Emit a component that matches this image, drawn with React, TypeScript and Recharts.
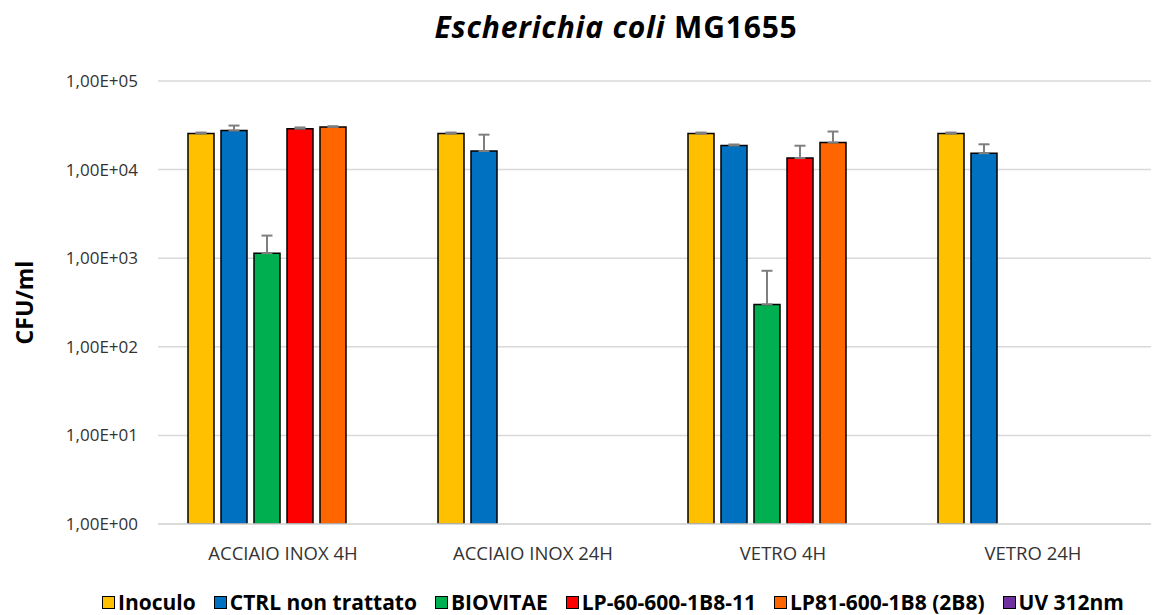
import { BarChart, Bar, XAxis, YAxis, CartesianGrid, Legend, ErrorBar } from 'recharts';

const categories = ['ACCIAIO INOX 4H', 'ACCIAIO INOX 24H', 'VETRO 4H', 'VETRO 24H'];

const inoculo = [25500, 25500, 25500, 25500];
const inoculoErr = [700, 700, 700, 700];
const ctrl = [27600, 16200, 18700, 15300];
const ctrlErr = [3800, 8600, 500, 4000];
const biovitae = [1140, null, 301, null];
const biovitaeErr = [660, null, 420, null];
const lp60 = [29000, null, 13500, null];
const lp60Err = [900, null, 5100, null];
const lp81 = [30300, null, 20200, null];
const lp81Err = [600, null, 6700, null];
const uv = [null, null, null, null];

const yTicks = [1, 10, 100, 1000, 10000, 100000];

const series = [
  { key: 'inoculo', name: 'Inoculo', color: '#FFC000' },
  { key: 'ctrl', name: 'CTRL non trattato', color: '#0070C0' },
  { key: 'biovitae', name: 'BIOVITAE', color: '#00B050' },
  { key: 'lp60', name: 'LP-60-600-1B8-11', color: '#FF0000' },
  { key: 'lp81', name: 'LP81-600-1B8 (2B8)', color: '#FF6600' },
  { key: 'uv', name: 'UV 312nm', color: '#7030A0' },
];

const err = (e: number | null) => (e == null ? null : [0, e]);

const data = categories.map((c, i) => ({
  name: c,
  inoculo: inoculo[i],
  inoculoErr: err(inoculoErr[i]),
  ctrl: ctrl[i],
  ctrlErr: err(ctrlErr[i]),
  biovitae: biovitae[i],
  biovitaeErr: err(biovitaeErr[i]),
  lp60: lp60[i],
  lp60Err: err(lp60Err[i]),
  lp81: lp81[i],
  lp81Err: err(lp81Err[i]),
  uv: uv[i],
}));

const FONT = '"Open Sans", "Noto Sans", sans-serif';

function formatTick(v: number) {
  const exp = Math.round(Math.log10(v));
  return `1,00E+${String(exp).padStart(2, '0')}`;
}

function renderLegend() {
  return (
    <div style={{ display: 'flex', justifyContent: 'center', alignItems: 'center', height: 26, fontFamily: FONT, fontWeight: 700, fontSize: 21, color: '#000', paddingLeft: 78 }}>
      {series.map(s => (
        <div key={s.key} style={{ display: 'flex', alignItems: 'center', marginRight: 18 }}>
          <span style={{ display: 'inline-block', width: 11, height: 11, background: s.color, border: '1.5px solid #000', marginRight: 3 }} />
          <span>{s.name}</span>
        </div>
      ))}
    </div>
  );
}

function YLabel(props: any) {
  const vb = props.viewBox;
  const x = vb.x + 16;
  const y = vb.y + vb.height / 2;
  return (
    <text x={x} y={y} transform={`rotate(-90, ${x}, ${y})`} textAnchor="middle" dominantBaseline="central"
      style={{ fontFamily: FONT, fontWeight: 700, fontSize: 23, fill: '#000' }}>
      CFU/ml
    </text>
  );
}

export default function App() {
  return (
    <div style={{ position: 'relative', width: 1151, height: 607 }}>
      <div style={{ position: 'absolute', top: -2, left: 608 - 300, width: 600, textAlign: 'center', fontFamily: FONT, fontWeight: 700, fontSize: 30, letterSpacing: 0.8, color: '#000' }}>
        <i>Escherichia coli</i> MG1655
      </div>
      <BarChart width={1151} height={607} data={data} margin={{ top: 73, right: 1, bottom: 0, left: 0 }}
        barSize={26} barGap={7}>
        <CartesianGrid vertical={false} stroke="#d9d9d9" strokeWidth={1.5} />
        <XAxis dataKey="name" height={65} tickLine={false} tickSize={0} tickMargin={23}
          axisLine={{ stroke: '#d9d9d9', strokeWidth: 1.5 }}
          tick={{ fontFamily: FONT, fontSize: 18.5, fill: '#333' }} interval={0} />
        <YAxis scale="log" domain={[1, 100000]} ticks={yTicks} allowDataOverflow width={150}
          axisLine={false} tickLine={false} tickSize={0} tickMargin={20} tickFormatter={formatTick}
          tick={{ fontFamily: FONT, fontSize: 17, fill: '#333' }}
          label={<YLabel />} />
        <Legend verticalAlign="bottom" content={renderLegend} />
        {series.map(s => (
          <Bar key={s.key} dataKey={s.key} name={s.name} fill={s.color} stroke="#000" strokeWidth={1.5} isAnimationActive={false}>
            {s.key !== 'uv' && (
              <ErrorBar dataKey={`${s.key}Err`} direction="y" width={5.5} stroke="#7f7f7f" strokeWidth={2} />
            )}
          </Bar>
        ))}
      </BarChart>
    </div>
  );
}
